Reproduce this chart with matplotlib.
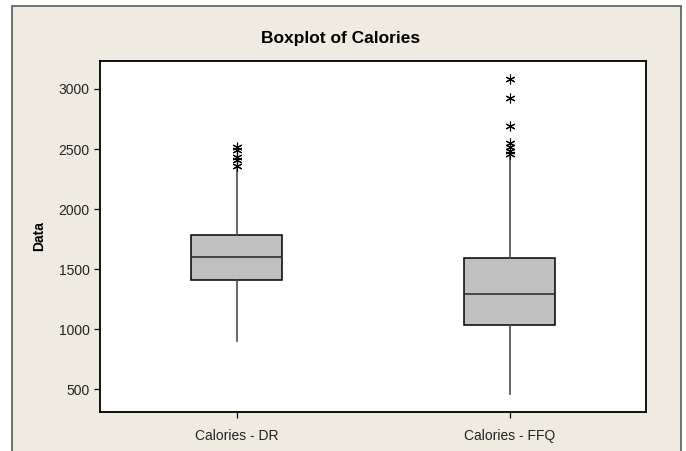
import matplotlib
matplotlib.use('Agg')
import matplotlib.pyplot as plt
from matplotlib.patches import Rectangle

# values
labels = ['Calories - DR', 'Calories - FFQ']
q1 = [1412, 1032]
medians = [1604, 1296]
q3 = [1784, 1595]
whisker_low = [904, 458]
whisker_high = [2331, 2436]
outliers_dr = [2520, 2495, 2436, 2409, 2362]
outliers_ffq = [3083, 2928, 2692, 2548, 2515, 2486, 2456]

BG = '#EFEBE1'

plt.rcParams['font.family'] = ['Liberation Sans', 'DejaVu Sans']

fig = plt.figure(figsize=(6.86, 4.51), dpi=100)
fig.patch.set_facecolor('white')

# beige panel with grey frame
panel = Rectangle((12 / 686, -0.01), (681 - 12) / 686, 1 - 6 / 451 + 0.01,
                  transform=fig.transFigure, facecolor=BG, edgecolor='#5a5a5a',
                  linewidth=1.2, zorder=-1)
fig.patches.append(panel)

ax = fig.add_axes([100 / 686, 1 - 412 / 451, (646 - 100) / 686, (412 - 61) / 451])
ax.set_zorder(1)
ax.set_facecolor('white')

stats = []
fliers = [outliers_dr, outliers_ffq]
for i in range(len(labels)):
    stats.append({
        'label': labels[i],
        'q1': q1[i], 'med': medians[i], 'q3': q3[i],
        'whislo': whisker_low[i], 'whishi': whisker_high[i],
        'fliers': fliers[i],
    })

ax.bxp(stats, positions=[1, 2], widths=0.335, patch_artist=True, showcaps=False,
       boxprops=dict(facecolor='#C0C0C0', edgecolor='black', linewidth=1.1),
       medianprops=dict(color='#303030', linewidth=1.2),
       whiskerprops=dict(color='#4a4a4a', linewidth=1.2),
       flierprops=dict(marker=(6, 2, 0), markersize=7, markeredgecolor='black',
                       markerfacecolor='none', markeredgewidth=0.8, linestyle='none'))

ax.set_xlim(0.5, 2.5)
ax.set_ylim(311, 3233)
ax.set_yticks([500, 1000, 1500, 2000, 2500, 3000])
ax.tick_params(axis='both', direction='out', length=4, width=0.9, color='black',
               labelsize=10, labelcolor='#222222')
ax.tick_params(axis='x', pad=8)
for s in ax.spines.values():
    s.set_linewidth(1.3)
    s.set_color('black')

ax.set_ylabel('Data', fontsize=10, fontweight='bold', labelpad=9)
fig.text(0.497, 1 - 39 / 451, 'Boxplot of Calories', ha='center', va='center',
         fontsize=12.5, fontweight='bold')

fig.savefig('out.png', dpi=100, facecolor='white')
